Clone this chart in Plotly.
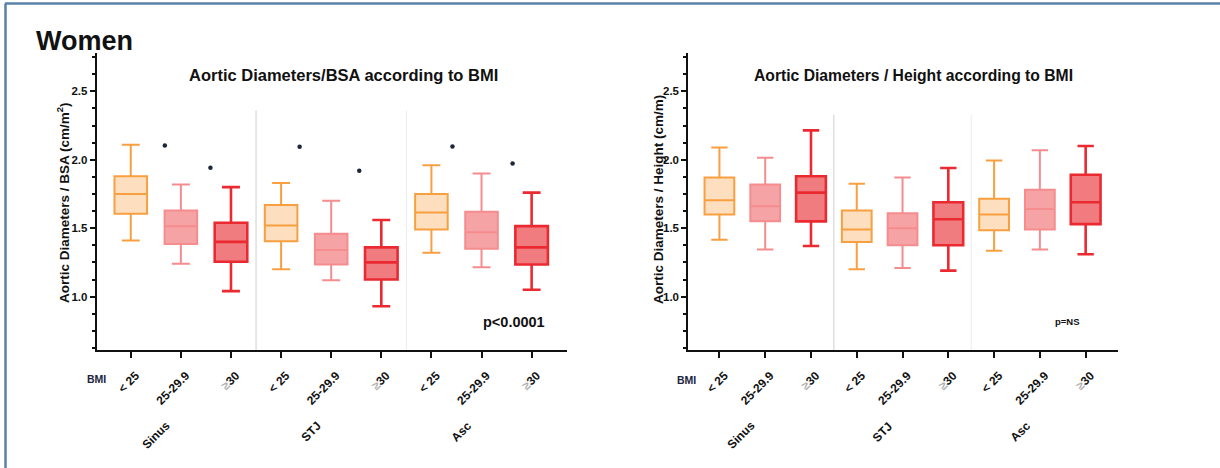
import plotly.graph_objects as go

W, H = 1220, 468

# ---------------- data ----------------
bmi_labels = ["< 25", "25-29.9", "≥30"]
sites = ["Sinus", "STJ", "Asc"]

# BSA-indexed (left panel): order Sinus(<25,25-29.9,>=30), STJ(...), Asc(...)
bsa_upper = [2.11, 1.82, 1.80, 1.83, 1.70, 1.56, 1.96, 1.90, 1.76]
bsa_q3    = [1.88, 1.63, 1.54, 1.67, 1.46, 1.36, 1.75, 1.62, 1.515]
bsa_med   = [1.75, 1.515, 1.40, 1.52, 1.34, 1.25, 1.615, 1.47, 1.36]
bsa_q1    = [1.605, 1.385, 1.255, 1.405, 1.235, 1.125, 1.49, 1.35, 1.235]
bsa_lower = [1.41, 1.24, 1.04, 1.20, 1.12, 0.93, 1.32, 1.215, 1.05]

# significance dots on the BSA panel
star_x = [0.68, 1.59, 3.37, 4.56, 6.42, 7.62]
star_y = [2.104, 1.942, 2.095, 1.92, 2.097, 1.973]

# Height-indexed (right panel)
ht_upper = [2.09, 2.015, 2.215, 1.825, 1.87, 1.94, 1.995, 2.07, 2.10]
ht_q3    = [1.87, 1.82, 1.88, 1.63, 1.61, 1.69, 1.715, 1.78, 1.89]
ht_med   = [1.705, 1.66, 1.76, 1.49, 1.50, 1.565, 1.60, 1.64, 1.69]
ht_q1    = [1.60, 1.55, 1.55, 1.40, 1.375, 1.375, 1.485, 1.49, 1.53]
ht_lower = [1.415, 1.345, 1.37, 1.20, 1.21, 1.19, 1.335, 1.345, 1.31]

line_colors = ["#F8A040", "#F58C8E", "#EA2A30"]
fill_colors = ["#FDDFBF", "#F6A3A5", "#F07C80"]
line_widths = [2, 2, 2.6]

FONT = "Liberation Sans, Arial, sans-serif"
INK = "#111111"

fig = go.Figure()

def add_boxes(upper, q3, med, q1, lower, xa, ya):
    for i in range(9):
        k = i % 3
        fig.add_trace(go.Box(
            x=[i], q1=[q1[i]], median=[med[i]], q3=[q3[i]],
            lowerfence=[lower[i]], upperfence=[upper[i]],
            width=0.65, whiskerwidth=0.55,
            line=dict(color=line_colors[k], width=line_widths[k]),
            fillcolor=fill_colors[k], boxpoints=False,
            xaxis=xa, yaxis=ya, showlegend=False, hoverinfo="skip"))

add_boxes(bsa_upper, bsa_q3, bsa_med, bsa_q1, bsa_lower, "x", "y")
add_boxes(ht_upper, ht_q3, ht_med, ht_q1, ht_lower, "x2", "y2")

fig.add_trace(go.Scatter(x=star_x, y=star_y, mode="markers",
                         marker=dict(size=4.5, color="#1c2838"),
                         xaxis="x", yaxis="y", showlegend=False, hoverinfo="skip"))

ticktext = []
for s in sites:
    for b in bmi_labels:
        if b.startswith("≥"):
            ticktext.append("<span style='color:#b0b0b0'>≥</span>30")
        else:
            ticktext.append(b)

YR = [0.61, 2.78]
XR = [-0.68, 8.70]
ydom = [1 - 350 / H, 1 - 53 / H]

def xaxis_cfg(dom):
    return dict(domain=dom, range=XR, tickmode="array", tickvals=list(range(9)),
                ticktext=ticktext, tickangle=-45, ticks="outside", ticklen=6,
                tickwidth=2, tickcolor=INK, showline=True, linewidth=2, linecolor=INK,
                showgrid=False, zeroline=False, ticklabelstandoff=6, ticklabelshift=5,
                automargin=False,
                tickfont=dict(family=FONT, size=12, color=INK, weight="bold"))

def yaxis_cfg(anchor):
    return dict(domain=ydom, range=YR, tickmode="array", tickvals=[1.0, 1.5, 2.0, 2.5],
                tickformat=".1f", ticks="outside", ticklen=5, tickwidth=2, tickcolor=INK,
                showline=True, linewidth=2, linecolor=INK, showgrid=False, zeroline=False,
                automargin=False,
                minor=dict(tick0=0, dtick=0.125, ticks="outside", ticklen=3,
                           tickwidth=2, tickcolor=INK, showgrid=False),
                tickfont=dict(family=FONT, size=11.5, color=INK, weight="bold"),
                anchor=anchor)

xl = xaxis_cfg([96.7 / W, 566.7 / W]); xl["anchor"] = "y"
xr = xaxis_cfg([688.3 / W, 1117.7 / W]); xr["anchor"] = "y2"

fig.update_layout(
    width=W, height=H, margin=dict(l=0, r=0, t=0, b=0, autoexpand=False),
    paper_bgcolor="white", plot_bgcolor="rgba(0,0,0,0)",
    xaxis=xl, yaxis=yaxis_cfg("x"),
    xaxis2=xr, yaxis2=yaxis_cfg("x2"),
    font=dict(family=FONT, color=INK),
)

# separators
for xa, ya, top in [("x", "y", 2.36), ("x2", "y2", 2.33)]:
    for xv, col in [(2.5, "#cfcfcf"), (5.5, "#ececec")]:
        fig.add_shape(type="line", xref=xa, yref=ya, x0=xv, x1=xv, y0=YR[0], y1=top,
                      line=dict(color=col, width=1), layer="below")

def A(**kw):
    base = dict(showarrow=False, font=dict(family=FONT, color=INK, size=11, weight="bold"))
    base.update(kw)
    fig.add_annotation(**base)

# frame
fig.add_shape(type="line", xref="paper", yref="paper", x0=5 / W, x1=1, y0=1 - 3.5 / H, y1=1 - 3.5 / H,
              line=dict(color="#5b80aa", width=2.5))
fig.add_shape(type="line", xref="paper", yref="paper", x0=5.5 / W, x1=5.5 / W, y0=0, y1=1 - 3.5 / H,
              line=dict(color="#5b80aa", width=2.5))

A(text="Women", xref="paper", yref="paper", x=34 / W, y=1 - 41 / H, xanchor="left", yanchor="middle",
  font=dict(family=FONT, size=27, color=INK, weight="bold"))

A(text="Aortic Diameters/BSA according to BMI", xref="paper", yref="paper",
  x=343.5 / W, y=1 - 75 / H, xanchor="center", yanchor="middle",
  font=dict(family=FONT, size=16.5, color=INK, weight="bold"))
A(text="Aortic Diameters / Height according to BMI", xref="paper", yref="paper",
  x=913.5 / W, y=1 - 75 / H, xanchor="center", yanchor="middle",
  font=dict(family=FONT, size=15.7, color=INK, weight="bold"))

A(text="Aortic Diameters / BSA (cm/m<sup>2</sup>)", xref="paper", yref="paper",
  x=63 / W, y=1 - 203 / H, textangle=-90, xanchor="center", yanchor="middle",
  font=dict(family=FONT, size=13.5, color=INK, weight="bold"))
A(text="Aortic Diameters / Height (cm/m)", xref="paper", yref="paper",
  x=658 / W, y=1 - 200 / H, textangle=-90, xanchor="center", yanchor="middle",
  font=dict(family=FONT, size=13.5, color=INK, weight="bold"))

A(text="p<0.0001", xref="paper", yref="paper", x=514 / W, y=1 - 322 / H,
  xanchor="center", yanchor="middle", font=dict(family=FONT, size=14.5, color=INK, weight="bold"))
A(text="p=NS", xref="paper", yref="paper", x=1067 / W, y=1 - 321 / H,
  xanchor="center", yanchor="middle", font=dict(family=FONT, size=9.5, color=INK, weight="bold"))

A(text="BMI", xref="paper", yref="paper", x=96 / W, y=1 - 379 / H, xanchor="center", yanchor="middle",
  font=dict(family=FONT, size=10.5, color="#1b2540", weight="bold"))
A(text="BMI", xref="paper", yref="paper", x=686 / W, y=1 - 380 / H, xanchor="center", yanchor="middle",
  font=dict(family=FONT, size=10.5, color="#1b2540", weight="bold"))

for xa in ["x", "x2"]:
    for gi, s in enumerate(sites):
        A(text=s, xref=xa, yref="paper", x=gi * 3 + 1 - 0.1, y=1 - 416 / H,
          textangle=-45, xanchor="right", yanchor="top",
          font=dict(family=FONT, size=12, color=INK, weight="bold"))

fig.write_html("out.html", config={"displayModeBar": False},
               post_script="document.body.style.margin='0';document.body.style.overflow='hidden';")
